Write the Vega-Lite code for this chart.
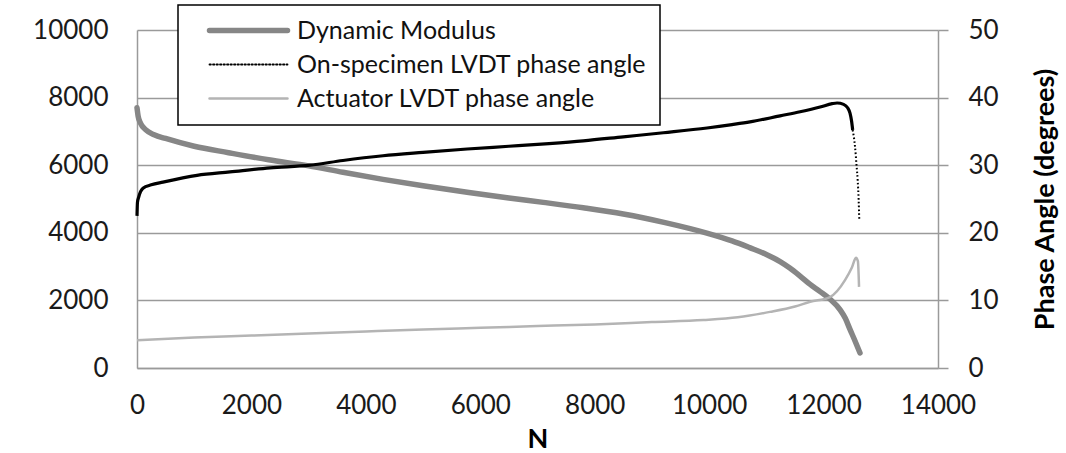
{
  "$schema": "https://vega.github.io/schema/vega-lite/v6.json",
  "width": 801,
  "height": 338,
  "autosize": "none",
  "padding": {"left": 137, "top": 30, "right": 128, "bottom": 85},
  "background": "white",
  "config": {
    "view": {"stroke": null},
    "font": "Lato",
    "axis": {
      "labelFont": "Lato",
      "labelFontSize": 26,
      "labelColor": "#1a1a1a",
      "titleFont": "Lato",
      "titleFontWeight": "bold",
      "titleFontSize": 27,
      "titleColor": "#000000",
      "domainColor": "#9a9a9a",
      "domainWidth": 1.5,
      "gridColor": "#9a9a9a",
      "gridWidth": 1.5,
      "tickColor": "#9a9a9a",
      "tickWidth": 1.5
    }
  },
  "data": {
    "values": [
      {"series": "Dynamic Modulus", "N": 0, "value": 7700},
      {"series": "Dynamic Modulus", "N": 20, "value": 7450},
      {"series": "Dynamic Modulus", "N": 60, "value": 7250},
      {"series": "Dynamic Modulus", "N": 150, "value": 7050},
      {"series": "Dynamic Modulus", "N": 300, "value": 6900},
      {"series": "Dynamic Modulus", "N": 500, "value": 6790},
      {"series": "Dynamic Modulus", "N": 1000, "value": 6560},
      {"series": "Dynamic Modulus", "N": 1600, "value": 6370},
      {"series": "Dynamic Modulus", "N": 2300, "value": 6160},
      {"series": "Dynamic Modulus", "N": 3000, "value": 5980},
      {"series": "Dynamic Modulus", "N": 3600, "value": 5790},
      {"series": "Dynamic Modulus", "N": 4300, "value": 5580},
      {"series": "Dynamic Modulus", "N": 5000, "value": 5390},
      {"series": "Dynamic Modulus", "N": 5800, "value": 5190},
      {"series": "Dynamic Modulus", "N": 6500, "value": 5030},
      {"series": "Dynamic Modulus", "N": 7100, "value": 4900},
      {"series": "Dynamic Modulus", "N": 7800, "value": 4740},
      {"series": "Dynamic Modulus", "N": 8500, "value": 4555},
      {"series": "Dynamic Modulus", "N": 9230, "value": 4300},
      {"series": "Dynamic Modulus", "N": 9960, "value": 3990},
      {"series": "Dynamic Modulus", "N": 10400, "value": 3760},
      {"series": "Dynamic Modulus", "N": 10710, "value": 3560},
      {"series": "Dynamic Modulus", "N": 11000, "value": 3360},
      {"series": "Dynamic Modulus", "N": 11240, "value": 3150},
      {"series": "Dynamic Modulus", "N": 11410, "value": 2960},
      {"series": "Dynamic Modulus", "N": 11590, "value": 2720},
      {"series": "Dynamic Modulus", "N": 11760, "value": 2480},
      {"series": "Dynamic Modulus", "N": 11940, "value": 2260},
      {"series": "Dynamic Modulus", "N": 12110, "value": 2040},
      {"series": "Dynamic Modulus", "N": 12290, "value": 1720},
      {"series": "Dynamic Modulus", "N": 12380, "value": 1470},
      {"series": "Dynamic Modulus", "N": 12460, "value": 1150},
      {"series": "Dynamic Modulus", "N": 12550, "value": 800},
      {"series": "Dynamic Modulus", "N": 12637, "value": 444},

      {"series": "On-specimen LVDT phase angle", "N": 0, "value": 22.5},
      {"series": "On-specimen LVDT phase angle", "N": 8, "value": 24.5},
      {"series": "On-specimen LVDT phase angle", "N": 30, "value": 25.3},
      {"series": "On-specimen LVDT phase angle", "N": 105, "value": 26.6},
      {"series": "On-specimen LVDT phase angle", "N": 250, "value": 27.1},
      {"series": "On-specimen LVDT phase angle", "N": 454, "value": 27.5},
      {"series": "On-specimen LVDT phase angle", "N": 1049, "value": 28.5},
      {"series": "On-specimen LVDT phase angle", "N": 1625, "value": 29.0},
      {"series": "On-specimen LVDT phase angle", "N": 2325, "value": 29.6},
      {"series": "On-specimen LVDT phase angle", "N": 3024, "value": 30.0},
      {"series": "On-specimen LVDT phase angle", "N": 3600, "value": 30.7},
      {"series": "On-specimen LVDT phase angle", "N": 4300, "value": 31.4},
      {"series": "On-specimen LVDT phase angle", "N": 5000, "value": 31.9},
      {"series": "On-specimen LVDT phase angle", "N": 5770, "value": 32.4},
      {"series": "On-specimen LVDT phase angle", "N": 6500, "value": 32.8},
      {"series": "On-specimen LVDT phase angle", "N": 7200, "value": 33.2},
      {"series": "On-specimen LVDT phase angle", "N": 7800, "value": 33.6},
      {"series": "On-specimen LVDT phase angle", "N": 8500, "value": 34.2},
      {"series": "On-specimen LVDT phase angle", "N": 9200, "value": 34.8},
      {"series": "On-specimen LVDT phase angle", "N": 9963, "value": 35.5},
      {"series": "On-specimen LVDT phase angle", "N": 10400, "value": 36.0},
      {"series": "On-specimen LVDT phase angle", "N": 10714, "value": 36.4},
      {"series": "On-specimen LVDT phase angle", "N": 11240, "value": 37.3},
      {"series": "On-specimen LVDT phase angle", "N": 11590, "value": 37.9},
      {"series": "On-specimen LVDT phase angle", "N": 11940, "value": 38.6},
      {"series": "On-specimen LVDT phase angle", "N": 12150, "value": 39.1},
      {"series": "On-specimen LVDT phase angle", "N": 12236, "value": 39.2},
      {"series": "On-specimen LVDT phase angle", "N": 12350, "value": 39.0},
      {"series": "On-specimen LVDT phase angle", "N": 12420, "value": 38.5},
      {"series": "On-specimen LVDT phase angle", "N": 12462, "value": 37.7},
      {"series": "On-specimen LVDT phase angle", "N": 12490, "value": 36.5},
      {"series": "On-specimen LVDT phase angle", "N": 12509, "value": 35.2},
      {"series": "On-specimen LVDT phase angle", "N": 12549, "value": 32.8},
      {"series": "On-specimen LVDT phase angle", "N": 12578, "value": 29.8},
      {"series": "On-specimen LVDT phase angle", "N": 12596, "value": 27.8},
      {"series": "On-specimen LVDT phase angle", "N": 12613, "value": 24.9},
      {"series": "On-specimen LVDT phase angle", "N": 12624, "value": 21.9},

      {"series": "Actuator LVDT phase angle", "N": 0, "value": 4.1},
      {"series": "Actuator LVDT phase angle", "N": 1000, "value": 4.5},
      {"series": "Actuator LVDT phase angle", "N": 2000, "value": 4.8},
      {"series": "Actuator LVDT phase angle", "N": 3000, "value": 5.1},
      {"series": "Actuator LVDT phase angle", "N": 4000, "value": 5.4},
      {"series": "Actuator LVDT phase angle", "N": 5000, "value": 5.7},
      {"series": "Actuator LVDT phase angle", "N": 6000, "value": 5.95},
      {"series": "Actuator LVDT phase angle", "N": 7000, "value": 6.2},
      {"series": "Actuator LVDT phase angle", "N": 8000, "value": 6.45},
      {"series": "Actuator LVDT phase angle", "N": 9000, "value": 6.8},
      {"series": "Actuator LVDT phase angle", "N": 9900, "value": 7.1},
      {"series": "Actuator LVDT phase angle", "N": 10500, "value": 7.5},
      {"series": "Actuator LVDT phase angle", "N": 11064, "value": 8.3},
      {"series": "Actuator LVDT phase angle", "N": 11500, "value": 9.1},
      {"series": "Actuator LVDT phase angle", "N": 11765, "value": 9.8},
      {"series": "Actuator LVDT phase angle", "N": 12112, "value": 10.5},
      {"series": "Actuator LVDT phase angle", "N": 12375, "value": 13.0},
      {"series": "Actuator LVDT phase angle", "N": 12497, "value": 14.9},
      {"series": "Actuator LVDT phase angle", "N": 12566, "value": 16.3},
      {"series": "Actuator LVDT phase angle", "N": 12600, "value": 15.8},
      {"series": "Actuator LVDT phase angle", "N": 12620, "value": 12.0}
    ]
  },
  "encoding": {
    "x": {
      "field": "N",
      "type": "quantitative",
      "scale": {"domain": [0, 14000], "nice": false, "zero": true},
      "axis": {
        "title": "N",
        "values": [0, 2000, 4000, 6000, 8000, 10000, 12000, 14000],
        "format": "d",
        "grid": false,
        "ticks": false,
        "labelPadding": 24,
        "titlePadding": 8,
        "labelFlush": false
      }
    },
    "color": {
      "field": "series",
      "type": "nominal",
      "scale": {
        "domain": ["Dynamic Modulus", "On-specimen LVDT phase angle", "Actuator LVDT phase angle"],
        "range": ["#868686", "#000000", "#b4b4b4"]
      },
      "legend": {
        "title": null,
        "orient": "none",
        "legendX": 41,
        "legendY": -25,
        "direction": "vertical",
        "fillColor": "white",
        "strokeColor": "black",
        "padding": 13,
        "symbolOffset": 45,
        "symbolType": "stroke",
        "symbolSize": 6084,
        "labelFont": "Lato",
        "labelFontSize": 25,
        "labelColor": "#111111",
        "labelOffset": 36,
        "labelLimit": 0,
        "rowPadding": 8,
        "cornerRadius": 0,
        "encode": {
          "legend": {"update": {"strokeWidth": {"value": 1.5}}},
          "symbols": {
            "update": {
              "strokeWidth": {"signal": "datum.value === 'Dynamic Modulus' ? 5.5 : (datum.value === 'On-specimen LVDT phase angle' ? 1.8 : 2.5)"},
              "strokeDash": {"signal": "datum.value === 'On-specimen LVDT phase angle' ? [1.4, 2.1] : [1, 0]"},
              "strokeCap": {"value": "round"}
            }
          }
        }
      }
    }
  },
  "layer": [
    {
      "transform": [{"filter": "datum.series === 'Dynamic Modulus'"}],
      "mark": {"type": "line", "strokeWidth": 5.5, "strokeCap": "round", "strokeJoin": "round", "interpolate": "monotone"},
      "encoding": {
        "y": {
          "field": "value",
          "type": "quantitative",
          "scale": {"domain": [0, 10000], "nice": false},
          "axis": {
            "title": null,
            "orient": "left",
            "values": [0, 2000, 4000, 6000, 8000, 10000],
            "format": "d",
            "grid": true,
            "ticks": false,
            "labelPadding": 29
          }
        }
      }
    },
    {
      "encoding": {
        "y": {
          "field": "value",
          "type": "quantitative",
          "scale": {"domain": [0, 50], "nice": false},
          "axis": {
            "title": "Phase Angle (degrees)",
            "orient": "right",
            "values": [0, 10, 20, 30, 40, 50],
            "grid": false,
            "ticks": true,
            "tickSize": 10,
            "labelPadding": 20,
            "titleAngle": 270,
            "titleX": 107,
            "titleY": 169,
            "titleAlign": "center",
            "titleBaseline": "middle"
          }
        }
      },
      "layer": [
        {
          "transform": [{"filter": "datum.series === 'Actuator LVDT phase angle'"}],
          "mark": {"type": "line", "strokeWidth": 2.5, "strokeJoin": "round", "interpolate": "monotone"}
        },
        {
          "transform": [{"filter": "datum.series === 'On-specimen LVDT phase angle' && datum.N <= 12509"}],
          "mark": {"type": "line", "strokeWidth": 3.2, "strokeJoin": "round", "interpolate": "monotone"}
        },
        {
          "transform": [{"filter": "datum.series === 'On-specimen LVDT phase angle' && datum.N >= 12509"}],
          "mark": {"type": "line", "strokeWidth": 2, "strokeDash": [1.6, 2.2], "interpolate": "monotone"}
        }
      ]
    }
  ],
  "resolve": {"scale": {"y": "independent"}}
}
